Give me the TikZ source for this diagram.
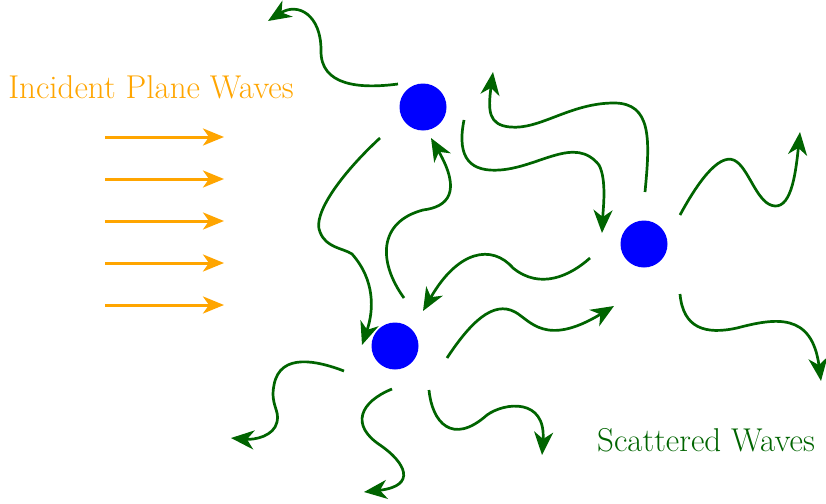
\documentclass[tikz,border=0pt]{standalone}
\usetikzlibrary{arrows.meta}
\definecolor{wavegreen}{RGB}{0,100,0}
\definecolor{incorange}{RGB}{255,165,0}
\begin{document}
\begin{tikzpicture}[x=1pt,y=-1pt,
  particle/.style={circle,fill=blue,minimum size=47pt,inner sep=0pt},
  scat/.style={draw=wavegreen,line width=2.7pt,-{Stealth[length=23pt,width=19pt,inset=7pt]}},
  inc/.style={draw=incorange,line width=3pt,-{Stealth[length=21pt,width=17pt,inset=6pt]}},
  lbl/.style={font=\fontsize{33}{40}\selectfont,inner sep=0pt}]
\useasboundingbox (0,0) rectangle (826,503);
\node[particle] (p1) at (423,107) {};
\node[particle] (p2) at (644,244) {};
\node[particle] (p3) at (395,346) {};
\node[lbl,text=incorange] (inclbl) at (151,87) {Incident Plane Waves};
\node[lbl,text=wavegreen] (scatlbl) at (706,440) {Scattered Waves};
% incident arrows
\foreach \yy [count=\i] in {137,179,221,263,305}{
  \coordinate (ia\i) at (105,\yy);
  \coordinate (ib\i) at (224,\yy);
  \draw[inc] (ia\i) -- (ib\i);
}
% scattered wave endpoints
\coordinate (s1) at (398,84);   \coordinate (e1) at (268,21);
\coordinate (s2) at (380,138);  \coordinate (e2) at (362,345);
\coordinate (s3) at (404,298);  \coordinate (e3) at (431,138);
\coordinate (s4) at (464,120);  \coordinate (e4) at (602,233);
\coordinate (s5) at (645,192);  \coordinate (e5) at (493,72);
\coordinate (s6) at (680,215);  \coordinate (e6) at (800,132);
\coordinate (s7) at (680,294);  \coordinate (e7) at (821,381);
\coordinate (s8) at (590,258);  \coordinate (e8) at (423,311);
\coordinate (s9) at (447,358);  \coordinate (e9) at (614,306);
\coordinate (s10) at (344,371); \coordinate (e10) at (231,438);
\coordinate (s11) at (392,389); \coordinate (e11) at (364,492);
\coordinate (s12) at (429,390); \coordinate (e12) at (542,455);
\draw[scat] (s1) .. controls (360,89) and (320,86) .. (321,50) .. controls (321,15) and (298,2) .. (e1);
\draw[scat] (s2) .. controls (340,175) and (312,215) .. (320,232) .. controls (326,248) and (343,248) .. (352,254) .. controls (375,280) and (374,310) .. (e2);
\draw[scat] (s3) .. controls (378,262) and (378,222) .. (423,210) .. controls (448,207) and (462,192) .. (e3);
\draw[scat] (s4) .. controls (456,160) and (472,172) .. (500,170) .. controls (540,167) and (575,135) .. (599,165) .. controls (607,180) and (603,210) .. (e4);
\draw[scat] (s5) .. controls (650,140) and (652,103) .. (614,103) .. controls (570,103) and (540,130) .. (510,127) .. controls (488,125) and (488,110) .. (e5);
\draw[scat] (s6) .. controls (700,178) and (722,150) .. (737,162) .. controls (750,172) and (758,205) .. (775,206) .. controls (792,207) and (796,170) .. (e6);
\draw[scat] (s7) .. controls (683,328) and (705,335) .. (737,328) .. controls (775,318) and (812,312) .. (e7);
\draw[scat] (s8) .. controls (570,276) and (540,290) .. (513,268) .. controls (492,244) and (458,250) .. (e8);
\draw[scat] (s9) .. controls (470,323) and (493,300) .. (515,312) .. controls (530,320) and (545,348) .. (e9);
\draw[scat] (s10) .. controls (318,361) and (280,352) .. (274,385) .. controls (270,405) and (280,410) .. (277,422) .. controls (274,436) and (255,440) .. (e10);
\draw[scat] (s11) .. controls (360,402) and (350,425) .. (380,445) .. controls (405,462) and (418,486) .. (e11);
\draw[scat] (s12) .. controls (432,422) and (452,446) .. (487,415) .. controls (505,402) and (546,398) .. (e12);
\end{tikzpicture}
\end{document}
